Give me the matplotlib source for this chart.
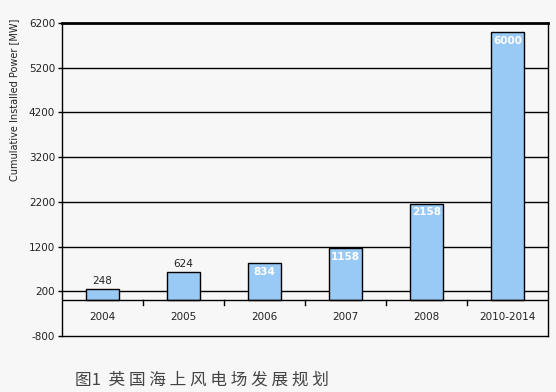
import matplotlib.pyplot as plt
import numpy as np

# data
categories = ['2004', '2005', '2006', '2007', '2008', '2010-2014']
values = [248, 624, 834, 1158, 2158, 6000]
label_inside = [False, False, True, True, True, True]
yticks = [-800, 200, 1200, 2200, 3200, 4200, 5200, 6200]
caption_head = '图1'
caption_body = '英国海上风电场发展规划'

bg = '#f7f7f7'
bar_color = '#99c9f5'
cjk = ['Noto Sans CJK SC', 'DejaVu Sans']

fig = plt.figure(figsize=(5.56, 3.92), dpi=100, facecolor=bg)
ax = fig.add_axes([0.1115, 0.1429, 0.8741, 0.7984], facecolor=bg)

x = np.arange(len(categories))
ax.bar(x, values, width=0.4, color=bar_color, edgecolor='black', linewidth=1.0, zorder=3)

# grid lines at the tick values
for yv in yticks[1:-1]:
    ax.axhline(yv, color='black', linewidth=1.0, zorder=1)

# category axis at zero, with ticks between categories
ax.axhline(0, color='black', linewidth=1.0, zorder=4)
for b in x[:-1] + 0.5:
    ax.plot([b, b], [0, -100], color='black', linewidth=1.0, zorder=4)
for xi, c in zip(x, categories):
    ax.text(xi, -380, c, ha='center', va='center', fontsize=7.5, color='#222222')

# value labels
for xi, v, inside in zip(x, values, label_inside):
    if inside:
        ax.text(xi, v - 80, str(v), ha='center', va='top', fontsize=7.5,
                color='white', fontweight='bold', zorder=5)
    else:
        ax.text(xi, v + 80, str(v), ha='center', va='bottom', fontsize=7.5,
                color='#222222', zorder=5)

ax.set_xlim(-0.5, len(categories) - 0.5)
ax.set_ylim(-800, 6200)
ax.set_yticks(yticks)
ax.set_yticklabels([str(t) for t in yticks], fontsize=7.5, color='#222222')
ax.set_xticks([])
ax.tick_params(axis='y', length=3, width=1, direction='out', pad=2)
ax.set_ylabel('Cumulative Installed Power [MW]', fontsize=7, color='#222222')
ax.yaxis.set_label_coords(-0.088, 0.755)

for s in ['left', 'right', 'bottom']:
    ax.spines[s].set_linewidth(1.0)
ax.spines['top'].set_linewidth(2.0)

# caption, letter-spaced like the original
caption = caption_head + '  ' + ' '.join(caption_body)
fig.text(75 / 556, 1 - 380 / 392, caption, fontsize=12, color='#444444',
         va='center', family=cjk)

fig.savefig('out.png', dpi=100, facecolor=bg)
